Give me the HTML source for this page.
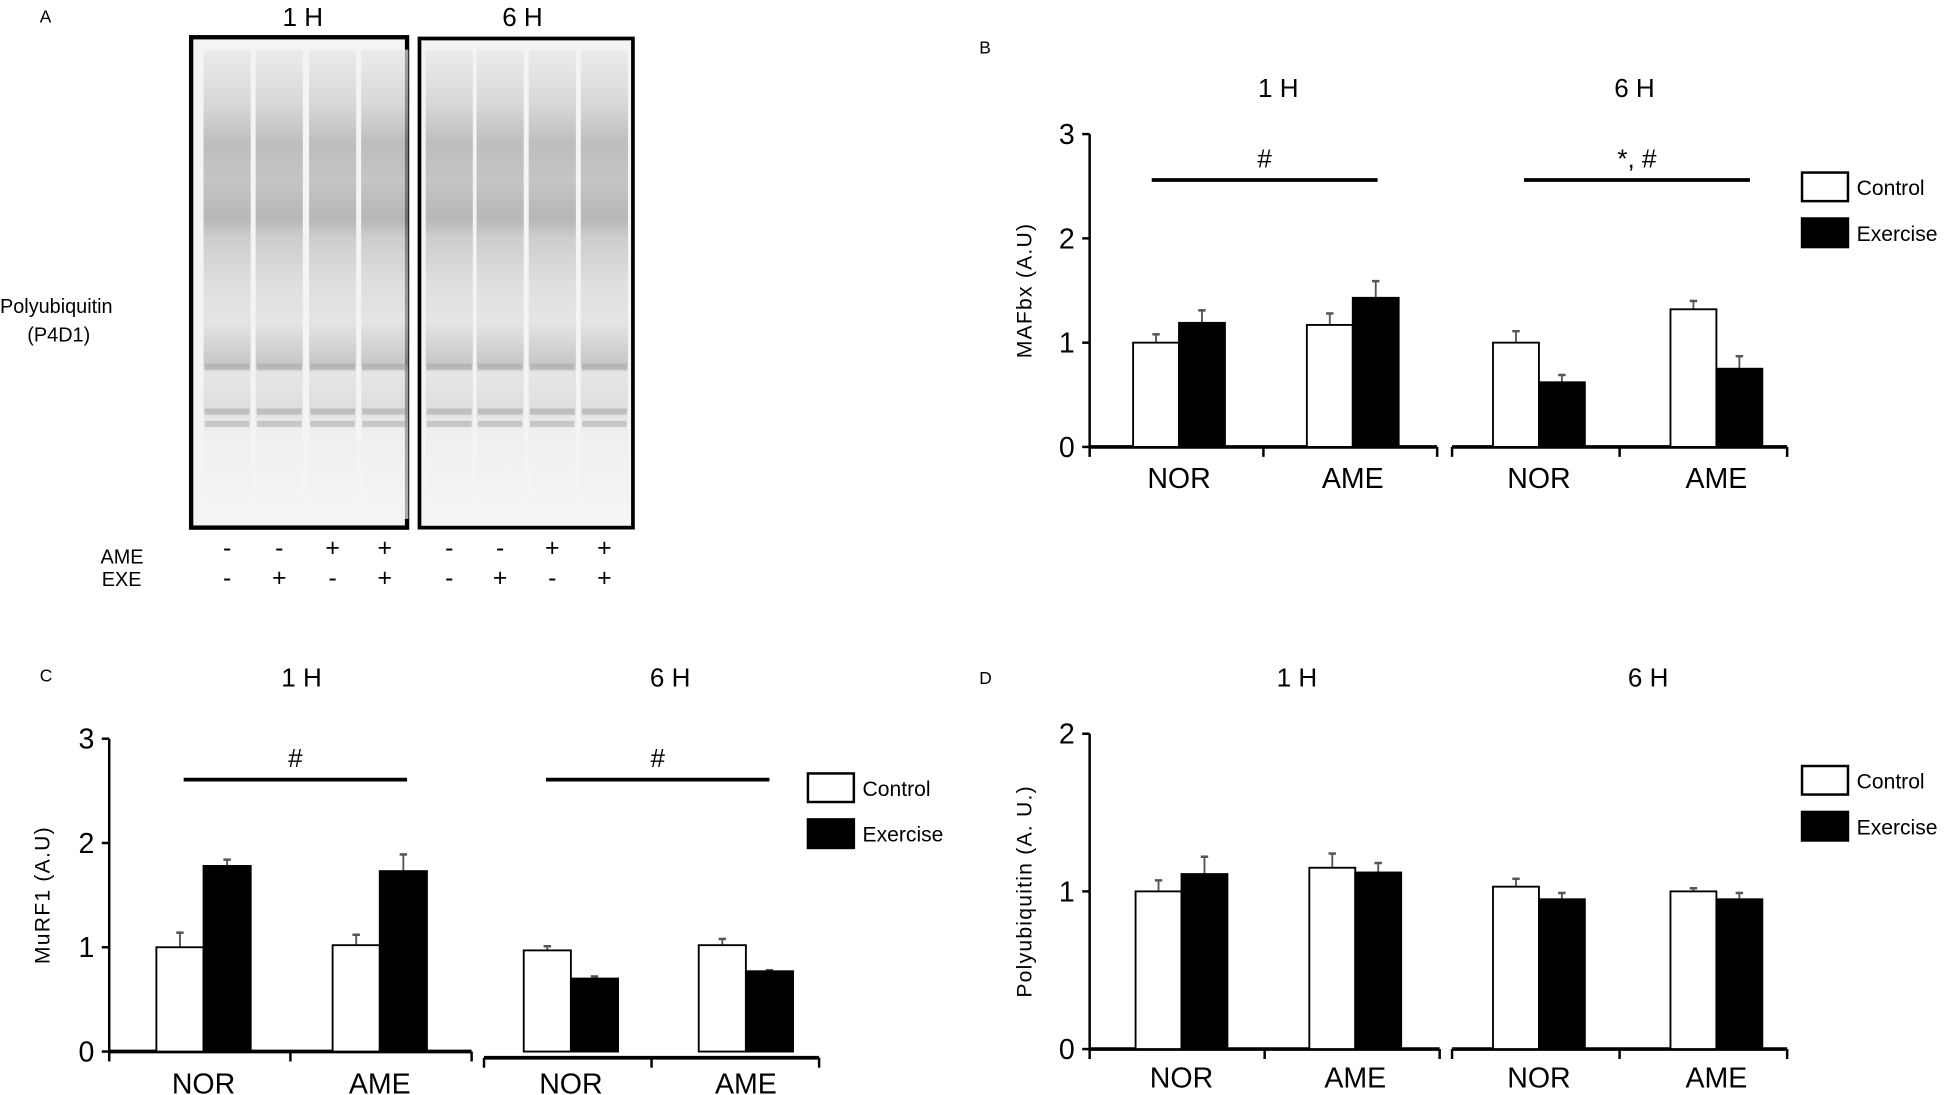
<!DOCTYPE html>
<html><head><meta charset="utf-8">
<style>
html,body{margin:0;padding:0;background:#fff;overflow:hidden}
svg{display:block}
text{font-family:"Liberation Sans Narrow","Liberation Sans",sans-serif;fill:#000}
.ax{font-family:"Liberation Sans",sans-serif;letter-spacing:1px}
</style></head>
<body>
<svg id="fig" width="1946" height="1095" viewBox="0 0 1568 882" preserveAspectRatio="none" xmlns="http://www.w3.org/2000/svg">
<defs>
<linearGradient id="lane" x1="0" y1="0" x2="0" y2="1">
<stop offset="0" stop-color="#e8e8e8"/>
<stop offset="0.05" stop-color="#dcdcdc"/>
<stop offset="0.12" stop-color="#cacaca"/>
<stop offset="0.2" stop-color="#a6a6a6"/>
<stop offset="0.28" stop-color="#b0b0b0"/>
<stop offset="0.36" stop-color="#9c9c9c"/>
<stop offset="0.4" stop-color="#bcbcbc"/>
<stop offset="0.5" stop-color="#d6d6d6"/>
<stop offset="0.58" stop-color="#dedede"/>
<stop offset="0.67" stop-color="#b4b4b4"/>
<stop offset="0.69" stop-color="#e0e0e0"/>
<stop offset="0.77" stop-color="#d4d4d4"/>
<stop offset="0.8" stop-color="#ececec"/>
<stop offset="1" stop-color="#f5f5f5"/>
</linearGradient>
</defs>
<g id="panelA">
<text x="32" y="18" font-size="14">A</text>
<text x="244" y="21" font-size="21" text-anchor="middle">1 H</text>
<text x="421" y="21" font-size="21" text-anchor="middle">6 H</text>
<rect x="154" y="30" width="174" height="395" fill="#f4f4f4" stroke="#000" stroke-width="3.5"/>
<rect x="338" y="31" width="172" height="394" fill="#f4f4f4" stroke="#000" stroke-width="3"/>
<g id="lanes"></g>
<text x="0" y="252" font-size="16">Polyubiquitin</text>
<text x="22" y="275" font-size="16">(P4D1)</text>
<text x="81" y="454" font-size="16">AME</text>
<text x="82" y="472" font-size="16">EXE</text>
<g id="signs"></g>
</g>
<g id="panelB"></g>
<g id="panelC"></g>
<g id="panelD"></g>
</svg>
<script>
const NS="http://www.w3.org/2000/svg";
function el(tag,attrs,parent,txt){const e=document.createElementNS(NS,tag);for(const k in attrs)e.setAttribute(k,attrs[k]);if(txt!==undefined)e.textContent=txt;parent.appendChild(e);return e;}

const laneCenters=[183,225,268,310,362,403,445,487];
const ameSigns=["-","-","+","+","-","-","+","+"];
const exeSigns=["-","+","-","+","-","+","-","+"];
const lanesG=document.getElementById('lanes');
laneCenters.forEach((c,i)=>{
 const r=el('rect',{x:c-19,y:40,width:38,height:378,fill:'url(#lane)',opacity:0.7},lanesG);
 
 
 [296,332,342].forEach(by=>{const b=el('rect',{x:c-18,y:by-3,width:36,height:5,fill:'#999',opacity:0.45},lanesG);
 
 });
});
const signsG=document.getElementById('signs');
laneCenters.forEach((c,i)=>{
 const a=el('text',{x:c,y:448,'font-size':20,'text-anchor':'middle'},signsG,ameSigns[i]);
 
 
 const b=el('text',{x:c,y:472,'font-size':20,'text-anchor':'middle'},signsG,exeSigns[i]);
 
 
});

const categories=["NOR","AME","NOR","AME"];
const timeLabels=["1 H","6 H"];
const mafControl=[1.0,1.17,1.0,1.32];
const mafControlErr=[0.08,0.11,0.11,0.08];
const mafExercise=[1.19,1.43,0.62,0.75];
const mafExerciseErr=[0.12,0.16,0.07,0.12];
const mafTicks=[0,1,2,3];
const mafSig=["#","*, #"];
const murControl=[1.0,1.02,0.97,1.02];
const murControlErr=[0.14,0.1,0.04,0.06];
const murExercise=[1.78,1.73,0.70,0.77];
const murExerciseErr=[0.06,0.16,0.02,0.01];
const murTicks=[0,1,2,3];
const murSig=["#","#"];
const ubControl=[1.0,1.15,1.03,1.0];
const ubControlErr=[0.07,0.09,0.05,0.02];
const ubExercise=[1.11,1.12,0.95,0.95];
const ubExerciseErr=[0.11,0.06,0.04,0.04];
const ubTicks=[0,1,2];
const ubSig=[];

function panel(gid,o){
 const g=document.getElementById(gid);
 
 
 const ymax=o.ticks[o.ticks.length-1];
 const y=v=>o.y0-(v/ymax)*(o.y0-o.yTop);
 const t=el('text',{x:o.px,y:o.py,'font-size':14},g,o.letter);
 
 
 const ax=el('line',{x1:o.ax,y1:y(ymax),x2:o.ax,y2:o.y0,stroke:'#000','stroke-width':2},g);
 
 
 o.ticks.forEach(v=>{
  const tl=el('line',{x1:o.ax-6,y1:y(v),x2:o.ax,y2:y(v),stroke:'#000','stroke-width':2},g);
  
  
  const tx=el('text',{x:o.ax-12,y:y(v)+8,'font-size':23,'text-anchor':'end'},g,String(v));
  
  
 });
 const yl=el('text',{x:0,y:0,'font-size':17,'text-anchor':'middle',class:'ax',transform:`translate(${o.ylx},${(o.y0+o.yTop)/2}) rotate(-90)`},g,o.ylabel);
 
 
 o.segs.forEach((s,si)=>{
  const sy=o.y0+(si===1?o.seg2dy:0);
  const l=el('line',{x1:s[0],y1:sy,x2:s[1],y2:sy,stroke:'#000','stroke-width':3},g);
  
  
  [s[0],(s[0]+s[1])/2,s[1]].forEach(tx=>{
   const tk=el('line',{x1:tx,y1:sy,x2:tx,y2:sy+8,stroke:'#000','stroke-width':2},g);
   
   
  });
  const h=el('text',{x:o.hx[si],y:o.hy,'font-size':21,'text-anchor':'middle'},g,timeLabels[si]);
  
  
 });
 categories.forEach((c,i)=>{
  const cx=o.cx[i], bw=o.bw;
  const pairs=[[o.ctrl[i],o.ctrlErr[i],cx-bw,'#fff'],[o.ex[i],o.exErr[i],cx,'#000']];
  pairs.forEach((p,j)=>{
   const ex=el('line',{x1:p[2]+bw/2,y1:y(p[0]+p[1]),x2:p[2]+bw/2,y2:y(p[0]),stroke:'#555','stroke-width':1.5},g);
   
   
   const ec=el('line',{x1:p[2]+bw/2-3,y1:y(p[0]+p[1]),x2:p[2]+bw/2+3,y2:y(p[0]+p[1]),stroke:'#555','stroke-width':2},g);
   
   
   const r=el('rect',{x:p[2],y:y(p[0]),width:bw,height:o.y0-y(p[0]),fill:p[3],stroke:'#000','stroke-width':1.5},g);
   
   
  });
  const lb=el('text',{x:cx,y:o.ly,'font-size':23,'text-anchor':'middle'},g,c);
  
  
 });
 o.sig.forEach((s,i)=>{
  const l=el('line',{x1:o.sigx[i][0],y1:o.sigy,x2:o.sigx[i][1],y2:o.sigy,stroke:'#000','stroke-width':3},g);
  
  
  const t2=el('text',{x:(o.sigx[i][0]+o.sigx[i][1])/2,y:o.sigy-10,'font-size':21,'text-anchor':'middle'},g,s);
  
  
 });
 const lc=el('rect',{x:o.lgx,y:o.lgy,width:37,height:23,fill:'#fff',stroke:'#000','stroke-width':2},g);
 
 
 const lt=el('text',{x:o.lgx+44,y:o.lgy+18,'font-size':17},g,'Control');
 
 
 const le=el('rect',{x:o.lgx,y:o.lgy+37,width:37,height:23,fill:'#000',stroke:'#000','stroke-width':2},g);
 
 
 const lx=el('text',{x:o.lgx+44,y:o.lgy+55,'font-size':17},g,'Exercise');
 
 
}

panel('panelB',{name:'panel-b-mafbx-chart',letter:'B',px:789,py:43,ax:878,yTop:108,y0:360,ticks:mafTicks,ylx:831,ylabel:'MAFbx (A.U)',
 segs:[[878,1158],[1170,1440]],seg2dy:0,hx:[1030,1317],hy:78,cx:[950,1090,1240,1383],bw:37,ctrl:mafControl,ctrlErr:mafControlErr,ex:mafExercise,exErr:mafExerciseErr,
 ly:393,sig:mafSig,sigx:[[928,1110],[1228,1410]],sigy:145,lgx:1452,lgy:139});
panel('panelC',{name:'panel-c-murf1-chart',letter:'C',px:32,py:549,ax:88,yTop:595,y0:847,ticks:murTicks,ylx:40,ylabel:'MuRF1 (A.U)',
 segs:[[88,380],[390,660]],seg2dy:5,hx:[243,540],hy:553,cx:[164,306,460,601],bw:38,ctrl:murControl,ctrlErr:murControlErr,ex:murExercise,exErr:murExerciseErr,
 ly:881,sig:murSig,sigx:[[148,328],[440,620]],sigy:628,lgx:651,lgy:623});
panel('panelD',{name:'panel-d-polyubiquitin-chart',letter:'D',px:789,py:551,ax:878,yTop:591,y0:845,ticks:ubTicks,ylx:831,ylabel:'Polyubiquitin (A. U.)',
 segs:[[878,1160],[1170,1440]],seg2dy:0,hx:[1045,1328],hy:553,cx:[952,1092,1240,1383],bw:37,ctrl:ubControl,ctrlErr:ubControlErr,ex:ubExercise,exErr:ubExerciseErr,
 ly:876,sig:ubSig,sigx:[],sigy:0,lgx:1452,lgy:617});
</script>
</body></html>
